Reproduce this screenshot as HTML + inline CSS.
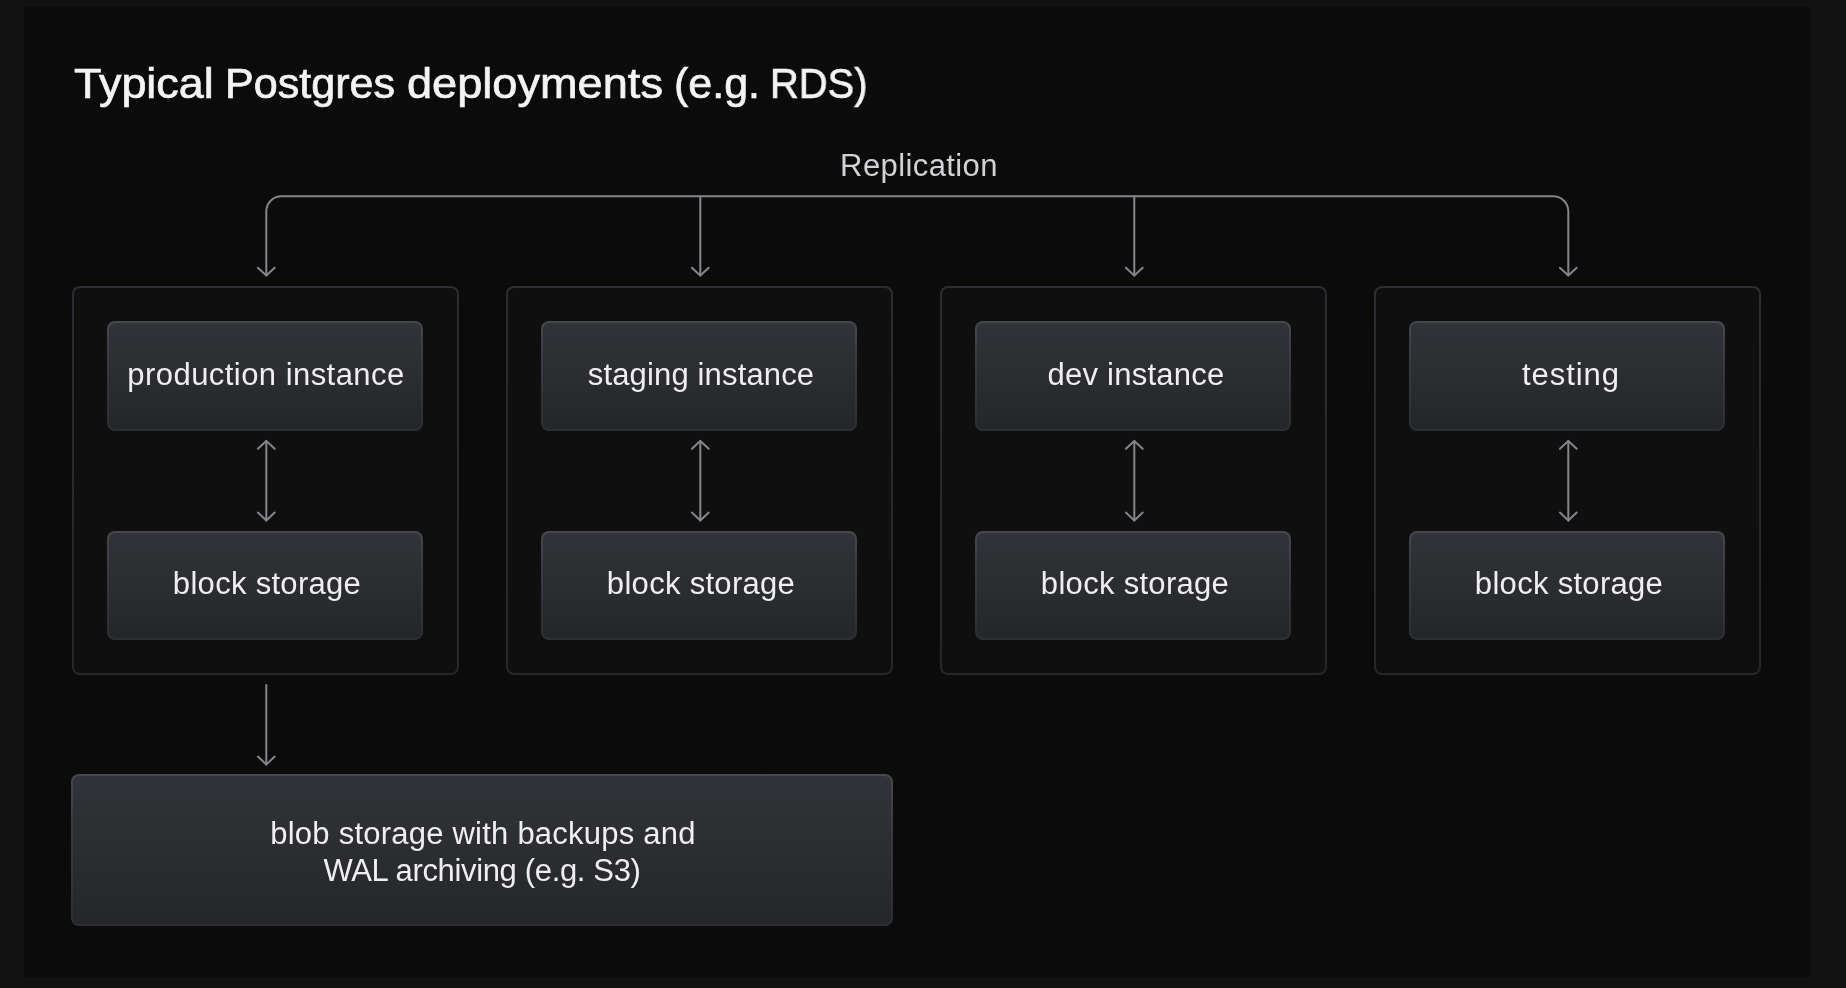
<!DOCTYPE html>
<html lang="en"><head><meta charset="utf-8"><title>Typical Postgres deployments</title>
<style>
*{box-sizing:border-box;margin:0;padding:0}
html,body{width:1846px;height:988px;overflow:hidden;background:#111111}
body{position:relative;font-family:"Liberation Sans",sans-serif}
.panel{position:absolute;left:24px;top:7px;width:1786px;height:970px;background:#0b0b0b;border-radius:2px}
.title{position:absolute;top:49px;transform-origin:0 50%;height:68px;line-height:68px;font-size:43px;color:#f4f4f5;white-space:nowrap;-webkit-text-stroke:0.7px #f4f4f5;will-change:transform}
.grp{position:absolute;top:285.6px;width:387px;height:389.5px;border:2.4px solid transparent;border-radius:8px;background:linear-gradient(#0f0f10,#0f0f10) padding-box,linear-gradient(180deg,#2c2d32 0%,#26272b 100%) border-box}
.box{position:absolute;width:316.8px;height:110px;border-radius:8px;border:2px solid transparent;background:linear-gradient(180deg,#323338 0%,#2c2d31 50%,#252629 100%) padding-box,linear-gradient(180deg,#48494f 0%,#3a3b40 35%,#2d2e32 100%) border-box}
.lbl{position:absolute;font-size:31px;line-height:40px;height:40px;color:#efeff1;white-space:nowrap;transform:translateX(-50%);text-align:center;will-change:transform}
.rep{color:#d2d2d6}
svg{position:absolute;left:0;top:0}
</style></head>
<body>
<div class="panel"></div>
<div class="title" style="left:73.90px;transform:scaleX(1.0441)">Typical</div>
<div class="title" style="left:224.90px;transform:scaleX(1.0027)">Postgres</div>
<div class="title" style="left:406.90px;transform:scaleX(1.0498)">deployments</div>
<div class="title" style="left:673.80px;transform:scaleX(0.9997)">(e.g.</div>
<div class="title" style="left:769.60px;transform:scaleX(0.9280)">RDS)</div>
<div class="lbl rep" style="left:918.7px;top:146.2px;letter-spacing:0.4px">Replication</div>
<div class="grp" style="left:71.5px"></div>
<div class="box" style="left:106.7px;top:320.7px;height:109.9px"></div>
<div class="box" style="left:106.7px;top:530.5px;height:109.7px"></div>
<div class="lbl" style="left:266.4px;top:354.8px;letter-spacing:0.45px">production instance</div>
<div class="lbl" style="left:266.5px;top:564px;letter-spacing:0.3px">block storage</div>
<div class="grp" style="left:505.5px"></div>
<div class="box" style="left:540.7px;top:320.7px;height:109.9px"></div>
<div class="box" style="left:540.7px;top:530.5px;height:109.7px"></div>
<div class="lbl" style="left:701.4px;top:354.8px;letter-spacing:0.15px">staging instance</div>
<div class="lbl" style="left:700.5px;top:564px;letter-spacing:0.3px">block storage</div>
<div class="grp" style="left:939.5px"></div>
<div class="box" style="left:974.7px;top:320.7px;height:109.9px"></div>
<div class="box" style="left:974.7px;top:530.5px;height:109.7px"></div>
<div class="lbl" style="left:1135.7px;top:354.8px;letter-spacing:0.25px">dev instance</div>
<div class="lbl" style="left:1134.5px;top:564px;letter-spacing:0.3px">block storage</div>
<div class="grp" style="left:1373.5px"></div>
<div class="box" style="left:1408.7px;top:320.7px;height:109.9px"></div>
<div class="box" style="left:1408.7px;top:530.5px;height:109.7px"></div>
<div class="lbl" style="left:1571.1px;top:354.8px;letter-spacing:0.95px">testing</div>
<div class="lbl" style="left:1568.5px;top:564px;letter-spacing:0.3px">block storage</div>
<div class="box" style="left:71.4px;top:774.2px;width:821.2px;height:152.2px"></div>
<div class="lbl" style="left:482.9px;top:813.8px;letter-spacing:0.23px">blob storage with backups and</div>
<div class="lbl" style="left:481.6px;top:850.8px;letter-spacing:-0.35px">WAL archiving (e.g. S3)</div>
<svg width="1846" height="988" viewBox="0 0 1846 988" fill="none" stroke="#85868c" stroke-width="2" stroke-linecap="round" stroke-linejoin="round">
<path d="M266.3 275.5 V211.3 A15 15 0 0 1 281.3 196.3 H1553.3 A15 15 0 0 1 1568.3 211.3 V275.5"/>
<path d="M700.3 196.3 V275.5"/>
<path d="M1134.3 196.3 V275.5"/>
<path d="M257.90000000000003 267.7 L266.3 275.5 L274.7 267.7"/>
<path d="M266.3 440.9 V520.4"/>
<path d="M257.90000000000003 448.7 L266.3 440.9 L274.7 448.7"/>
<path d="M257.90000000000003 512.6 L266.3 520.4 L274.7 512.6"/>
<path d="M691.9 267.7 L700.3 275.5 L708.6999999999999 267.7"/>
<path d="M700.3 440.9 V520.4"/>
<path d="M691.9 448.7 L700.3 440.9 L708.6999999999999 448.7"/>
<path d="M691.9 512.6 L700.3 520.4 L708.6999999999999 512.6"/>
<path d="M1125.8999999999999 267.7 L1134.3 275.5 L1142.7 267.7"/>
<path d="M1134.3 440.9 V520.4"/>
<path d="M1125.8999999999999 448.7 L1134.3 440.9 L1142.7 448.7"/>
<path d="M1125.8999999999999 512.6 L1134.3 520.4 L1142.7 512.6"/>
<path d="M1559.8999999999999 267.7 L1568.3 275.5 L1576.7 267.7"/>
<path d="M1568.3 440.9 V520.4"/>
<path d="M1559.8999999999999 448.7 L1568.3 440.9 L1576.7 448.7"/>
<path d="M1559.8999999999999 512.6 L1568.3 520.4 L1576.7 512.6"/>
<path d="M266.3 685 V764.4"/>
<path d="M257.90000000000003 756.6 L266.3 764.4 L274.7 756.6"/>
</svg>
</body></html>
